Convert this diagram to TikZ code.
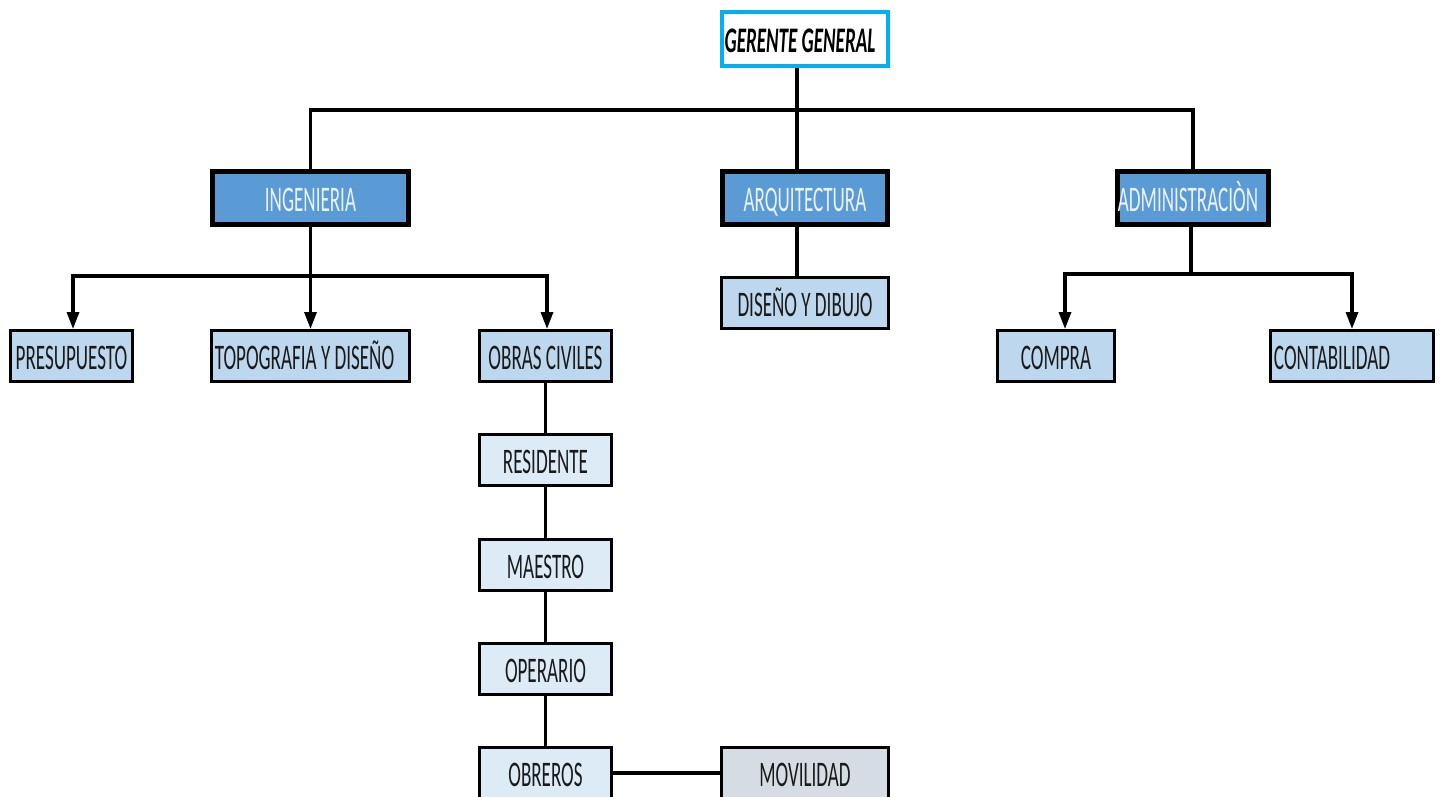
\documentclass[tikz,border=0pt]{standalone}
\usepackage{fontspec}
\usetikzlibrary{arrows.meta}
\newfontfamily\cf[FakeStretch=0.53]{Carlito}
\definecolor{topblue}{HTML}{5B9BD5}
\definecolor{midblue}{HTML}{BDD7EE}
\definecolor{lowblue}{HTML}{DDEBF7}
\definecolor{greybox}{HTML}{D6DCE4}
\definecolor{cyanb}{HTML}{00B0F0}
\definecolor{txtdark}{HTML}{1A1A1A}
\definecolor{txtlight}{HTML}{EAF2FB}
\tikzset{
  base/.style={rectangle, inner sep=0pt, text height=28pt, text depth=1pt,
     font=\cf\fontsize{36}{38}\selectfont},
  headbox/.style={base, draw=cyanb, line width=4pt, fill=white, text=black,
     font=\cf\fontsize{36}{38}\selectfont\bfseries\itshape},
  deptbox/.style={base, draw=black, line width=5pt, fill=topblue, text=txtlight, minimum height=53pt},
  subbox/.style={base, draw=black, line width=3pt, fill=midblue, text=txtdark, minimum height=51pt},
  lowbox/.style={base, draw=black, line width=3pt, fill=lowblue, text=txtdark, minimum height=51pt},
  greyb/.style={base, draw=black, line width=3pt, fill=greybox, text=txtdark, minimum height=51pt},
  conn/.style={draw=black, line width=3.2pt},
  arr/.style={conn, -{Triangle[width=12pt,length=17pt]}},
}
\begin{document}
\begin{tikzpicture}[x=1pt,y=-1pt]
\useasboundingbox (0,0) rectangle (1443,796);
% top
\node[headbox, minimum width=166pt, minimum height=54pt] (ger) at (805,39) {GERENTE GENERAL\kern10pt};
% departments
\node[deptbox, minimum width=196pt] (ing) at (310.5,198) {INGENIERIA};
\node[deptbox, minimum width=165pt] (arq) at (805,198) {ARQUITECTURA};
\node[deptbox, minimum width=151pt] (adm) at (1193,198) {ADMINISTRACIÒN\kern10pt};
% sub level
\node[subbox, minimum width=122pt] (pre) at (71.5,356) {PRESUPUESTO};
\node[subbox, minimum width=198pt] (top) at (310.5,356) {TOPOGRAFIA Y DISEÑO\kern12pt};
\node[subbox, minimum width=132pt] (obr) at (545.5,356) {OBRAS CIVILES};
\node[subbox, minimum width=167pt] (dis) at (805,303) {DISEÑO Y DIBUJO};
\node[subbox, minimum width=117pt] (com) at (1056,356) {COMPRA};
\node[subbox, minimum width=163pt] (con) at (1352,356) {CONTABILIDAD\kern40pt};
% chain
\node[lowbox, minimum width=132pt] (res) at (545.5,460) {RESIDENTE};
\node[lowbox, minimum width=132pt] (mae) at (545.5,565) {MAESTRO};
\node[lowbox, minimum width=132pt] (ope) at (545.5,669) {OPERARIO};
\node[lowbox, minimum width=132pt] (obs) at (545.5,773) {OBREROS};
\node[greyb, minimum width=167pt] (mov) at (805,773) {MOVILIDAD};
% level coordinates
\coordinate (ytop) at (0,110);
\coordinate (ying) at (0,276);
\coordinate (yadm) at (0,274);
% connectors from top
\draw[conn] ([xshift=-8pt]ger.south) -- ([xshift=-8pt]arq.north);
\draw[conn] (ing.north) -- (ing.north |- ytop) -- (adm.north |- ytop) -- (adm.north);
% ingenieria
\draw[conn] (ing.south) -- (ing.south |- ying);
\draw[arr] (ing.south |- ying) -| ([xshift=1.5pt]pre.north);
\draw[arr] (ing.south |- ying) -- (top.north);
\draw[arr] (ing.south |- ying) -| ([xshift=1.5pt]obr.north);
% arquitectura
\draw[conn] ([xshift=-8pt]arq.south) -- ([xshift=-8pt]dis.north);
% administracion
\draw[conn] ([xshift=-2pt]adm.south) -- ([xshift=-2pt]adm.south |- yadm);
\draw[arr] ([xshift=-2pt]adm.south |- yadm) -| ([xshift=9pt]com.north);
\draw[arr] ([xshift=-2pt]adm.south |- yadm) -| (con.north);
% chain
\draw[conn] (obr.south) -- (res.north);
\draw[conn] (res.south) -- (mae.north);
\draw[conn] (mae.south) -- (ope.north);
\draw[conn] (ope.south) -- (obs.north);
\draw[conn] (obs.east) -- (mov.west);
\end{tikzpicture}
\end{document}
